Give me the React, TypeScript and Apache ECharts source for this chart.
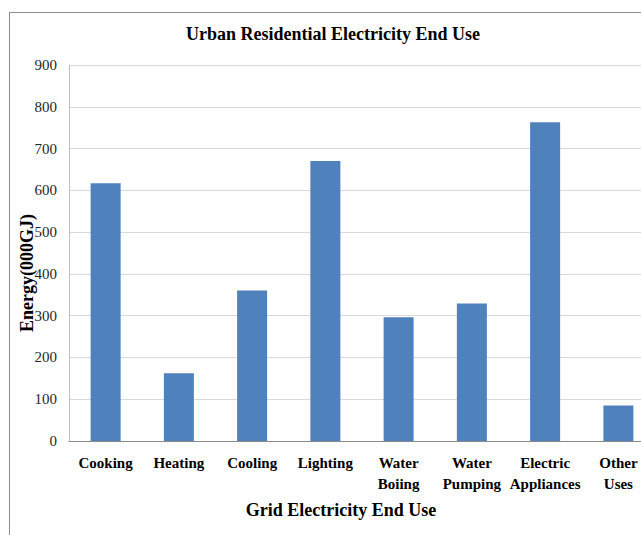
import React, { useEffect, useRef } from "react";
import * as echarts from "echarts";

const categories = [
  "Cooking",
  "Heating",
  "Cooling",
  "Lighting",
  "Water Boiing",
  "Water Pumping",
  "Electric Appliances",
  "Other Uses",
];
const energy = [617, 162, 360, 670, 296, 329, 763, 85];
const yTicks = { min: 0, max: 900, step: 100 };

const chartTitle = "Urban Residential Electricity End Use";
const xName = "Grid Electricity End Use";
const yName = "Energy(000GJ)";

const SERIF = "'Liberation Serif', 'Times New Roman', serif";

export default function App() {
  const ref = useRef<HTMLDivElement>(null);

  useEffect(() => {
    if (!ref.current) return;
    const chart = echarts.init(ref.current, undefined, { renderer: "svg" });
    chart.setOption({
      animation: false,
      backgroundColor: "#ffffff",
      // plot area runs past the right edge of the canvas
      grid: {
        left: 69,
        top: 65,
        width: 586,
        bottom: 94,
        containLabel: false,
        outerBoundsMode: "none",
      },
      graphic: [
        {
          type: "rect",
          silent: true,
          shape: { x: 9.5, y: 12.5, width: 800, height: 700 },
          style: { fill: "none", stroke: "#8c8c8c", lineWidth: 1 },
        },
        {
          type: "text",
          x: 333,
          y: 34,
          style: {
            text: chartTitle,
            font: `bold 18px ${SERIF}`,
            fill: "#000000",
            align: "center",
            verticalAlign: "middle",
          },
        },
        {
          type: "text",
          x: 341,
          y: 510,
          style: {
            text: xName,
            font: `bold 18px ${SERIF}`,
            fill: "#000000",
            align: "center",
            verticalAlign: "middle",
          },
        },
        {
          type: "text",
          x: 27,
          y: 273,
          rotation: Math.PI / 2,
          style: {
            text: yName,
            font: `bold 18px ${SERIF}`,
            fill: "#000000",
            align: "center",
            verticalAlign: "middle",
          },
        },
      ],
      xAxis: {
        type: "category",
        data: categories,
        axisTick: { show: false },
        axisLine: { lineStyle: { color: "#8a8a8a", width: 1 } },
        axisLabel: {
          interval: 0,
          margin: 11,
          color: "#000000",
          fontFamily: SERIF,
          fontWeight: "bold",
          fontSize: 15,
          lineHeight: 21,
          formatter: (s: string) => s.replace(" ", "\n"),
        },
      },
      yAxis: {
        type: "value",
        min: yTicks.min,
        max: yTicks.max,
        interval: yTicks.step,
        axisLine: { show: true, lineStyle: { color: "#bfbfbf", width: 1 } },
        axisTick: { show: false },
        splitLine: { lineStyle: { color: "#d9d9d9", width: 1 } },
        axisLabel: {
          margin: 12,
          color: "#262626",
          fontFamily: SERIF,
          fontSize: 15,
        },
      },
      series: [
        {
          type: "bar",
          data: energy,
          barWidth: 30,
          itemStyle: { color: "#4f81bd" },
        },
      ],
    });
    return () => chart.dispose();
  }, []);

  return (
    <div
      ref={ref}
      style={{ position: "fixed", left: 0, top: 0, width: 641, height: 535 }}
    />
  );
}
